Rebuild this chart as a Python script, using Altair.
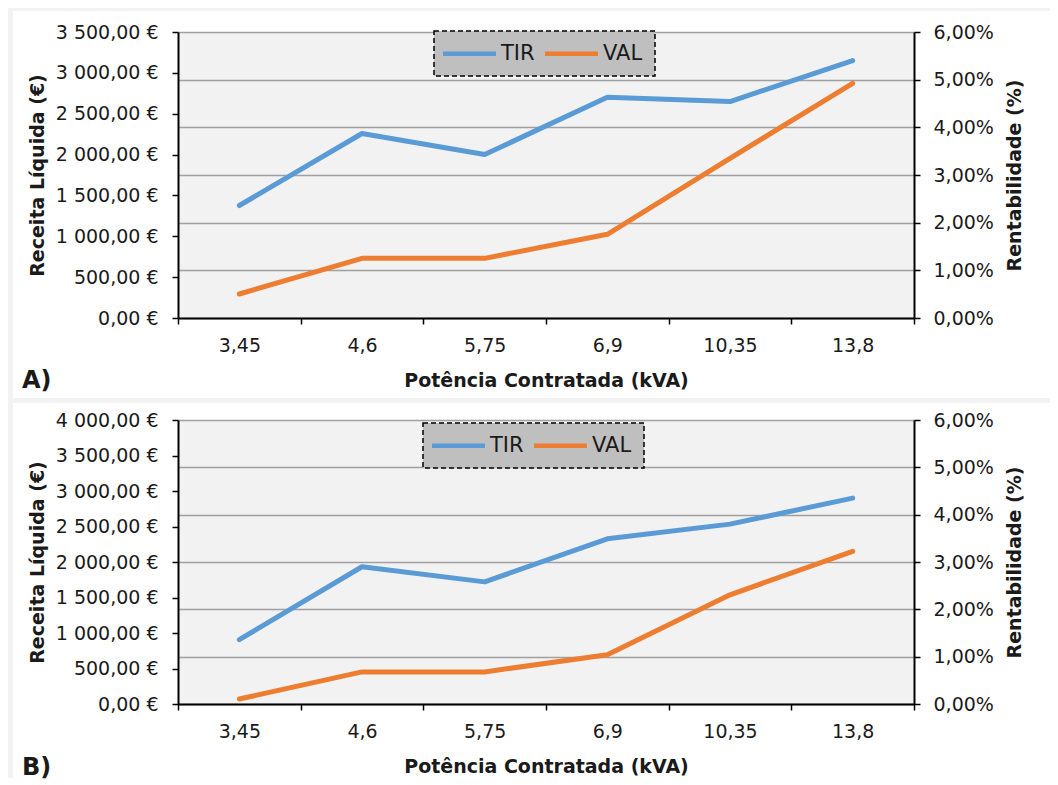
import altair as alt
import pandas as pd

# ---- data ----
kva = ["3,45", "4,6", "5,75", "6,9", "10,35", "13,8"]

tir_a = [2.36, 3.87, 3.43, 4.63, 4.54, 5.40]      # %
val_a = [294, 730, 730, 1024, 1954, 2872]          # EUR

tir_b = [1.36, 2.90, 2.58, 3.49, 3.80, 4.35]       # %
val_b = [70, 452, 452, 695, 1538, 2150]            # EUR

left_ticks_a = [0, 500, 1000, 1500, 2000, 2500, 3000, 3500]
left_ticks_b = [0, 500, 1000, 1500, 2000, 2500, 3000, 3500, 4000]
right_ticks = [0, 1, 2, 3, 4, 5, 6]

series = ["TIR", "VAL"]
colors = ["#5b9bd5", "#ed7d31"]

FONT = "DejaVu Sans"
INK = "#1a1a1a"
GREY = "#f2f2f2"
W = 736


def strip(x, x2, y, y2):
    return alt.Chart(pd.DataFrame({"k": [0]})).mark_rect(color=GREY).encode(
        x=alt.value(x), x2=alt.value(x2), y=alt.value(y), y2=alt.value(y2)
    )


def panel(tir, val, left_ticks, letter, h, legend_x, legend_y, strips, letter_y):
    df = pd.DataFrame({"kva": kva, "tir": tir, "val": val})
    base = alt.Chart(df)

    x = alt.X(
        "kva:N",
        sort=kva,
        bandPosition=0.5,
        scale=alt.Scale(type="band", paddingInner=0, paddingOuter=0),
        axis=alt.Axis(
            title="Potência Contratada (kVA)",
            tickBand="extent",
            labelAngle=0,
            grid=False,
            domainColor="black",
            domainWidth=2,
            tickColor="black",
            tickWidth=1.5,
            tickSize=6,
            labelPadding=12,
            labelFont=FONT,
            labelFontSize=19,
            labelColor=INK,
            titleFont=FONT,
            titleFontSize=19,
            titleFontWeight="bold",
            titleColor=INK,
            titlePadding=16,
        ),
    )

    color = alt.Color(
        "serie:N",
        scale=alt.Scale(domain=series, range=colors),
        legend=alt.Legend(
            title=None,
            orient="none",
            legendX=legend_x,
            legendY=legend_y,
            direction="horizontal",
            symbolType="M-5,0H5",
            symbolSize=112,
            symbolStrokeWidth=4.5,
            symbolOffset=13,
            labelFont=FONT,
            labelFontSize=21,
            labelColor=INK,
            labelOffset=21,
            columnPadding=1,
            padding=12,
            fillColor="#bfbfbf",
            strokeColor="black",
        ),
    )

    tir_line = (
        base.transform_calculate(serie="'TIR'")
        .mark_line(strokeWidth=5, strokeCap="round", strokeJoin="round")
        .encode(
            x=x,
            y=alt.Y(
                "tir:Q",
                scale=alt.Scale(domain=[0, 6], nice=False),
                axis=alt.Axis(
                    orient="right",
                    values=right_ticks,
                    title="Rentabilidade (%)",
                    labelExpr="replace(format(datum.value, '.2f'), '.', ',') + '%'",
                    grid=True,
                    gridColor="#a0a0a0",
                    gridWidth=1.5,
                    domainColor="black",
                    domainWidth=2,
                    tickColor="black",
                    tickWidth=1.5,
                    tickSize=6,
                    labelPadding=13,
                    labelFont=FONT,
                    labelFontSize=19,
                    labelColor=INK,
                    titleFont=FONT,
                    titleFontSize=19,
                    titleFontWeight="bold",
                    titleColor=INK,
                    titleAngle=270,
                    titleBaseline="top",
                    titlePadding=12,
                ),
            ),
            color=color,
        )
    )

    val_line = (
        base.transform_calculate(serie="'VAL'")
        .mark_line(strokeWidth=5, strokeCap="round", strokeJoin="round")
        .encode(
            x=x,
            y=alt.Y(
                "val:Q",
                scale=alt.Scale(domain=[left_ticks[0], left_ticks[-1]], nice=False),
                axis=alt.Axis(
                    orient="left",
                    values=left_ticks,
                    title="Receita Líquida (€)",
                    labelExpr="replace(replace(format(datum.value, ',.2f'), ',', ' '), '.', ',') + ' €'",
                    grid=False,
                    domainColor="black",
                    domainWidth=2,
                    tickColor="black",
                    tickWidth=1.5,
                    tickSize=6,
                    labelPadding=14,
                    labelFont=FONT,
                    labelFontSize=19,
                    labelColor=INK,
                    titleFont=FONT,
                    titleFontSize=19,
                    titleFontWeight="bold",
                    titleColor=INK,
                    titlePadding=8,
                ),
            ),
            color=color,
        )
    )

    letter_text = alt.Chart(pd.DataFrame({"k": [0]})).mark_text(
        text=letter,
        font=FONT,
        fontSize=24,
        fontWeight="bold",
        color=INK,
        align="left",
        baseline="alphabetic",
    ).encode(x=alt.value(-156), y=alt.value(letter_y))

    layers = [strip(*s) for s in strips] + [tir_line, val_line, letter_text]
    return (
        alt.layer(*layers)
        .resolve_scale(y="independent")
        .properties(width=W, height=h)
    )


HA = 286
HB = 284

panel_a = panel(
    tir_a, val_a, left_ticks_a, "A)", HA, 256, -1,
    strips=[
        (-170, 872, -24, -21),      # top border
        (-170, -165, -24, 371),     # left border
        (-170, 872, 366, 371),      # separator
    ],
    letter_y=HA + 70,
)

panel_b = panel(
    tir_b, val_b, left_ticks_b, "B)", HB, 245, 3,
    strips=[
        (-170, -165, -17, HB + 74),  # left border
    ],
    letter_y=HB + 71,
)

chart = (
    alt.vconcat(panel_a, panel_b, spacing=0)
    .resolve_scale(color="independent")
    .resolve_legend(color="independent")
    .properties(padding={"left": 0, "top": 0, "right": 0, "bottom": 0}, background="white")
    .configure_view(fill=GREY, strokeWidth=0)
    .configure_legend(strokeDash=[5, 3], strokeWidth=1.5)
)

chart.save("out.html", embed_options={"renderer": "svg", "actions": False})
